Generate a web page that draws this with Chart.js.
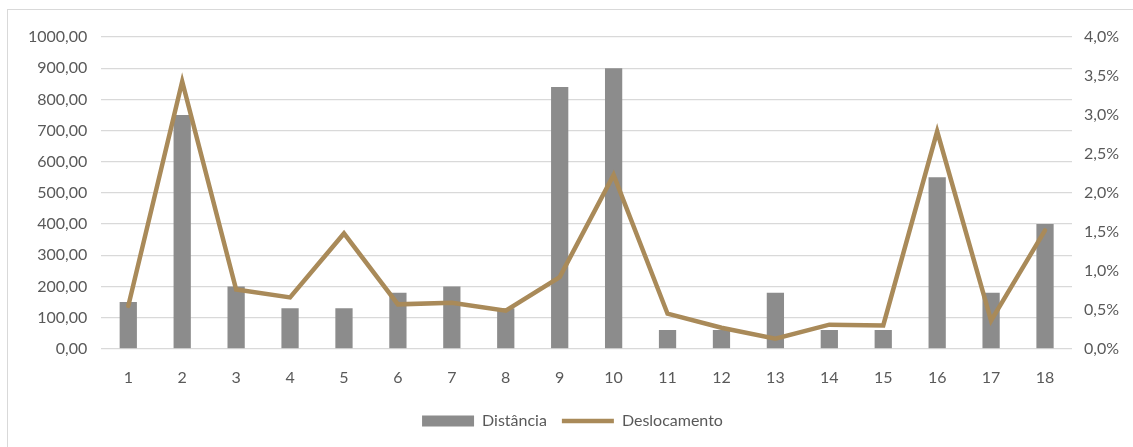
<!DOCTYPE html>
<html>
<head>
<meta charset="utf-8">
<script src="https://cdn.jsdelivr.net/npm/chart.js@4.4.1/dist/chart.umd.min.js"></script>
<style>
  html, body { margin: 0; padding: 0; background: #fff; overflow: hidden; }
  #frame { position: absolute; left: 7px; top: 9px; width: 1140px; height: 450px; border: 1px solid #d9d9d9; }
  #wrap { position: absolute; left: 0; top: 0; width: 1133px; height: 447px; }
</style>
</head>
<body>
<div id="frame"></div>
<div id="wrap"><canvas id="chart"></canvas></div>
<script>
const labels = ['1','2','3','4','5','6','7','8','9','10','11','12','13','14','15','16','17','18'];
const distancia = [150, 750, 200, 130, 130, 180, 200, 130, 840, 900, 60, 60, 180, 60, 60, 550, 180, 400];
const deslocamento = [0.55, 3.43, 0.76, 0.66, 1.48, 0.57, 0.59, 0.49, 0.92, 2.23, 0.45, 0.27, 0.13, 0.31, 0.30, 2.79, 0.36, 1.52];

const textColor = '#595959';
const gridColor = '#d9d9d9';

Chart.defaults.font.family = 'Lato, "Open Sans", sans-serif';
Chart.defaults.font.size = 16;
Chart.defaults.color = textColor;

var ctx = document.getElementById('chart').getContext('2d');

new Chart(ctx, {
  type: 'bar',
  data: {
    labels: labels,
    datasets: [
      {
        label: 'Distância',
        data: distancia,
        backgroundColor: '#8c8c8c',
        pointStyle: 'rect',
        yAxisID: 'y',
        barPercentage: 0.32,
        categoryPercentage: 1,
        order: 1
      },
      {
        type: 'line',
        label: 'Deslocamento',
        data: deslocamento,
        borderColor: '#a98a59',
        backgroundColor: '#a98a59',
        borderWidth: 4.5,
        borderCapStyle: 'round',
        pointStyle: 'line',
        pointRadius: 0,
        tension: 0,
        yAxisID: 'y1',
        order: 0
      }
    ]
  },
  options: {
    responsive: true,
    maintainAspectRatio: false,
    animation: false,
    layout: {
      padding: {left: 14, right: 2, top: 37, bottom: 8}
    },
    plugins: {
      tooltip: {enabled: false},
      legend: {
        position: 'bottom',
        labels: {
          usePointStyle: true,
          pointStyleWidth: 52,
          boxHeight: 11,
          padding: 15,
          sort: function(a, b) { return a.datasetIndex - b.datasetIndex; }
        }
      }
    },
    scales: {
      x: {
        grid: {display: false},
        border: {display: false},
        ticks: {padding: 11}
      },
      y: {
        position: 'left',
        min: 0,
        max: 1000,
        ticks: {
          stepSize: 100,
          padding: 14,
          callback: function(v) { return v.toFixed(2).replace('.', ','); }
        },
        grid: {color: gridColor, lineWidth: 1.3, drawTicks: false},
        border: {display: false}
      },
      y1: {
        position: 'right',
        min: 0,
        max: 4,
        ticks: {
          stepSize: 0.5,
          padding: 12,
          callback: function(v) { return v.toFixed(1).replace('.', ',') + '%'; }
        },
        grid: {display: false, drawTicks: false},
        border: {display: false}
      }
    }
  }
});
</script>
</body>
</html>
